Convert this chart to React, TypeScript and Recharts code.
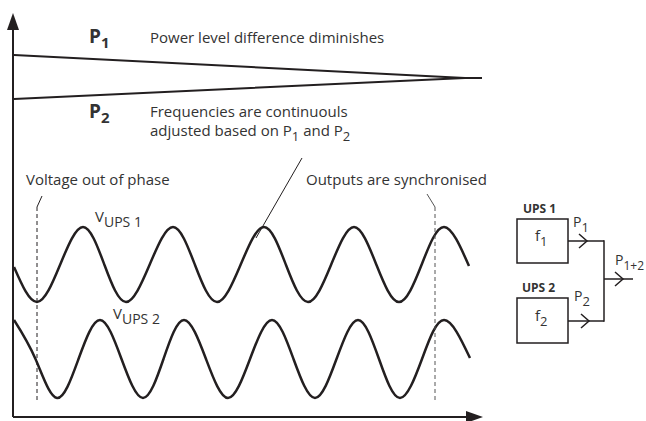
import React from 'react';
import { ComposedChart, Line, XAxis, YAxis, ReferenceLine, ReferenceDot, ReferenceArea } from 'recharts';

// t = time along the x axis, v = level above the x axis
// UPS 1 voltage: start, troughs, crossings and peaks
const ups1 = [
  { t: 1, v: 150 }, { t: 24, v: 115 }, { t: 47, v: 152 }, { t: 70, v: 190 },
  { t: 91.5, v: 152 }, { t: 113, v: 115 }, { t: 136.5, v: 152 }, { t: 160, v: 190 },
  { t: 182, v: 152 }, { t: 204, v: 115 }, { t: 227.5, v: 152 }, { t: 251, v: 190 },
  { t: 273, v: 152 }, { t: 295, v: 115 }, { t: 318, v: 152 }, { t: 341, v: 190 },
  { t: 363.5, v: 152 }, { t: 386, v: 115 }, { t: 408.5, v: 152 }, { t: 431, v: 190 },
  { t: 456, v: 151 },
];

// UPS 2 voltage: slightly faster, catches up with UPS 1 at the end
const ups2 = [
  { t: 1, v: 97 }, { t: 22.5, v: 58 }, { t: 44, v: 19 }, { t: 65.5, v: 58 },
  { t: 87, v: 97 }, { t: 108.5, v: 58 }, { t: 130, v: 19 }, { t: 150.5, v: 58 },
  { t: 171, v: 97 }, { t: 193, v: 58 }, { t: 215, v: 19 }, { t: 237, v: 58 },
  { t: 259, v: 97 }, { t: 280.5, v: 58 }, { t: 302, v: 19 }, { t: 323.5, v: 58 },
  { t: 345, v: 97 }, { t: 366, v: 58 }, { t: 387, v: 19 }, { t: 409, v: 58 },
  { t: 431, v: 97 }, { t: 457, v: 59 },
];

// power levels P1 / P2 converging
const powerT = [1, 452, 469];
const powerP1 = [362, 339, 339];
const powerP2 = [318, 339, 339];
const power = powerT.map((t, i) => ({ t, p1: powerP1[i], p2: powerP2[i] }));

const INK = '#231f20';
const TEXT = '#333';
const FONT = '"Open Sans", Roboto, sans-serif';

type Part = [string, boolean?];

const note = (parts: Part[], size: number, bold = false, subSize = size - 3) => (props: any) => {
  let down = false;
  return (
    <text x={props.cx} y={props.cy} fill={TEXT} fontFamily={FONT} fontSize={size} fontWeight={bold ? 700 : 400}>
      {parts.map(([s, sub], i) => {
        let dy = 0;
        if (sub && !down) { dy = 5; down = true; }
        else if (!sub && down) { dy = -5; down = false; }
        return (
          <tspan key={i} dy={dy} fontSize={sub ? subSize : size}>{s}</tspan>
        );
      })}
    </text>
  );
};

const chevron = (props: any) => (
  <path d={`M${props.cx - 8},${props.cy - 7} L${props.cx},${props.cy} L${props.cx - 8},${props.cy + 7}`} fill="none" stroke={INK} strokeWidth={1.5} />
);
const arrowUp = (props: any) => (
  <path d={`M${props.cx},${props.cy} L${props.cx - 6},${props.cy + 17} L${props.cx + 6},${props.cy + 17} Z`} fill={INK} />
);
const arrowRight = (props: any) => (
  <path d={`M${props.cx},${props.cy} L${props.cx - 17},${props.cy - 6} L${props.cx - 17},${props.cy + 6} Z`} fill={INK} />
);

const labels: { t: number; v: number; shape: (p: any) => React.ReactElement }[] = [
  { t: 76, v: 374, shape: note([['P'], ['1', true]], 19, true, 15) },
  { t: 137, v: 374, shape: note([['Power level difference diminishes']], 15) },
  { t: 76, v: 299, shape: note([['P'], ['2', true]], 19, true, 15) },
  { t: 137, v: 300, shape: note([['Frequencies are continuouls']], 15) },
  { t: 137, v: 281, shape: note([['adjusted based on P'], ['1', true], [' and P'], ['2', true]], 15, false, 13) },
  { t: 13, v: 232, shape: note([['Voltage out of phase']], 15) },
  { t: 293, v: 232, shape: note([['Outputs are synchronised']], 15) },
  { t: 82, v: 195, shape: note([['V'], ['UPS 1', true]], 15, false, 14) },
  { t: 100, v: 98, shape: note([['V'], ['UPS 2', true]], 15, false, 14) },
  { t: 510, v: 204, shape: note([['UPS 1']], 12, true) },
  { t: 522, v: 176, shape: note([['f'], ['1', true]], 15, false, 13) },
  { t: 560, v: 190, shape: note([['P'], ['1', true]], 14, false, 13) },
  { t: 602, v: 152, shape: note([['P'], ['1+2', true]], 14, false, 12) },
  { t: 509, v: 125, shape: note([['UPS 2']], 12, true) },
  { t: 561, v: 116, shape: note([['P'], ['2', true]], 14, false, 13) },
  { t: 522, v: 96, shape: note([['f'], ['2', true]], 15, false, 13) },
];

export default function App() {
  return (
    <div style={{ position: 'absolute', left: 0, top: 0, background: '#fff' }}>
      <ComposedChart width={646} height={421} margin={{ top: 13, right: 0, bottom: 4, left: 13 }}>
        <XAxis type="number" dataKey="t" domain={[0, 633]} hide allowDataOverflow />
        <YAxis type="number" domain={[0, 404]} hide allowDataOverflow />

        {/* axes */}
        <ReferenceLine segment={[{ x: 0, y: 0 }, { x: 0, y: 390 }]} stroke={INK} strokeWidth={2} ifOverflow="visible" />
        <ReferenceLine segment={[{ x: 0, y: 0 }, { x: 456, y: 0 }]} stroke={INK} strokeWidth={2} ifOverflow="visible" />
        <ReferenceDot x={0} y={404} r={0} shape={arrowUp} ifOverflow="visible" />
        <ReferenceDot x={470} y={0} r={0} shape={arrowRight} ifOverflow="visible" />

        {/* power levels */}
        <Line data={power} dataKey="p1" type="linear" stroke={INK} strokeWidth={2} dot={false} isAnimationActive={false} />
        <Line data={power} dataKey="p2" type="linear" stroke={INK} strokeWidth={2} dot={false} isAnimationActive={false} />

        {/* voltages */}
        <Line data={ups1} dataKey="v" type="natural" stroke={INK} strokeWidth={2.5} dot={false} isAnimationActive={false} />
        <Line data={ups2} dataKey="v" type="natural" stroke={INK} strokeWidth={2.5} dot={false} isAnimationActive={false} />

        {/* markers */}
        <ReferenceLine segment={[{ x: 24, y: 17 }, { x: 24, y: 210 }]} stroke={INK} strokeWidth={1} strokeDasharray="4 3" ifOverflow="visible" />
        <ReferenceLine segment={[{ x: 24, y: 210 }, { x: 29, y: 221 }]} stroke={INK} strokeWidth={1} ifOverflow="visible" />
        <ReferenceLine segment={[{ x: 422, y: 17 }, { x: 422, y: 210 }]} stroke="#555" strokeWidth={1} strokeDasharray="4 3" ifOverflow="visible" />
        <ReferenceLine segment={[{ x: 422, y: 210 }, { x: 414, y: 223 }]} stroke="#555" strokeWidth={1} ifOverflow="visible" />
        <ReferenceLine segment={[{ x: 243, y: 179 }, { x: 289, y: 259 }]} stroke={INK} strokeWidth={1} ifOverflow="visible" />

        {/* UPS block diagram */}
        <ReferenceArea x1={504} x2={555} y1={154} y2={198} fill="none" stroke={INK} strokeWidth={1.5} ifOverflow="visible" />
        <ReferenceArea x1={504} x2={555} y1={74} y2={119} fill="none" stroke={INK} strokeWidth={1.5} ifOverflow="visible" />
        <ReferenceLine segment={[{ x: 555, y: 176 }, { x: 591, y: 176 }]} stroke={INK} strokeWidth={1.5} ifOverflow="visible" />
        <ReferenceLine segment={[{ x: 555, y: 96 }, { x: 591, y: 96 }]} stroke={INK} strokeWidth={1.5} ifOverflow="visible" />
        <ReferenceLine segment={[{ x: 591, y: 176.7 }, { x: 591, y: 95.3 }]} stroke={INK} strokeWidth={1.5} ifOverflow="visible" />
        <ReferenceLine segment={[{ x: 591, y: 138 }, { x: 620, y: 138 }]} stroke={INK} strokeWidth={1.5} ifOverflow="visible" />
        <ReferenceDot x={574} y={176} r={0} shape={chevron} ifOverflow="visible" />
        <ReferenceDot x={576} y={96} r={0} shape={chevron} ifOverflow="visible" />
        <ReferenceDot x={610} y={138} r={0} shape={chevron} ifOverflow="visible" />

        {labels.map((l, i) => (
          <ReferenceDot key={i} x={l.t} y={l.v} r={0} shape={l.shape} ifOverflow="visible" />
        ))}
      </ComposedChart>
    </div>
  );
}
